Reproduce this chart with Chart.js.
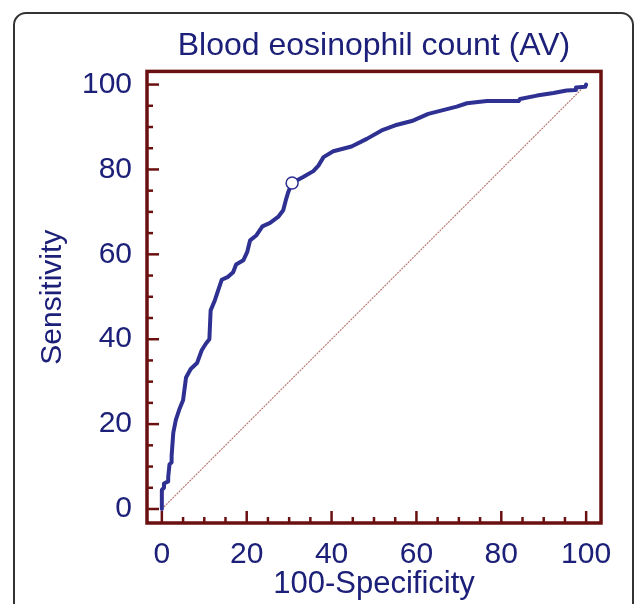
<!DOCTYPE html>
<html>
<head>
<meta charset="utf-8">
<title>Blood eosinophil count (AV)</title>
<script src="https://cdn.jsdelivr.net/npm/chart.js@4.4.1/dist/chart.umd.min.js"></script>
<style>
  html, body { margin: 0; padding: 0; background: #fff; }
</style>
</head>
<body>
<canvas id="roc" width="635" height="604"></canvas>
<script>
// ROC curve (x = 100-Specificity, y = Sensitivity)
let fprValues = [0, 0, 0.5, 0.5, 1.5, 1.5, 1.8, 2.3, 2.3, 2.7, 3.3, 4.2, 5.0, 5.7, 6.8, 8.3, 9.4, 10.4, 11.2,
  11.5, 12.5, 14.1, 15.6, 16.8, 17.5, 19.2, 20.1, 20.8, 22.3, 23.7, 25.5, 27.4, 28.6, 29.2, 29.8, 30.4, 30.7,
  33.3, 35.7, 36.9, 38.1, 40.4, 44.7, 48.3, 51.8, 55.0, 58.9, 62.8, 69.5, 71.9, 76.6, 84.1, 84.4, 88.4, 92.3,
  95.4, 97.4, 97.6, 99.8, 100];
let tprValues = [0, 4.5, 5.0, 6.0, 6.5, 7.5, 10.5, 11.0, 12.5, 18.0, 21.0, 23.7, 25.6, 31.0, 33.0, 34.4, 37.4, 39.0, 40.0,
  46.8, 49.2, 54.0, 54.7, 55.8, 57.6, 58.6, 60.5, 63.3, 64.5, 66.6, 67.4, 68.8, 70.4, 72.7, 74.7, 76.2, 76.8,
  78.2, 79.6, 80.9, 82.9, 84.3, 85.4, 87.2, 89.2, 90.4, 91.4, 93.1, 94.8, 95.6, 96.1, 96.1, 96.6, 97.4, 98.0,
  98.6, 98.7, 99.3, 99.5, 100];

// optimal criterion point
let cutoffX = [30.7];
let cutoffY = [76.8];

// reference diagonal
let refX = [0, 100];
let refY = [0, 100];

let majorTicks = [0, 20, 40, 60, 80, 100];
let minorTicks = [0, 5, 10, 15, 20, 25, 30, 35, 40, 45, 50, 55, 60, 65, 70, 75, 80, 85, 90, 95, 100];

let textColor = "#1c2078";
let lineColor = "#2e3192";
let frameColor = "#6b1010";
let fontFamily = "'Liberation Sans', Arial, sans-serif";

function toPoints(xs, ys) {
  return xs.map(function (x, i) {
    return { x: x, y: ys[i] };
  });
}

// white card with rounded border behind the chart
const cardPlugin = {
  id: "card",
  beforeDraw(chart) {
    let ctx = chart.ctx;
    ctx.save();
    ctx.fillStyle = "#fff";
    ctx.fillRect(0, 0, chart.width, chart.height);
    ctx.strokeStyle = "#333";
    ctx.lineWidth = 2;
    ctx.beginPath();
    ctx.roundRect(14, 13, 619, 640, 12);
    ctx.stroke();
    ctx.restore();
  },
};

// box around plot area + inward tick marks
const framePlugin = {
  id: "frame",
  afterDatasetsDraw(chart) {
    let ctx = chart.ctx;
    let a = chart.chartArea;
    let xs = chart.scales.x;
    let ys = chart.scales.y;
    ctx.save();
    ctx.strokeStyle = frameColor;
    ctx.lineWidth = 2.5;
    minorTicks.forEach(function (v) {
      let len = majorTicks.includes(v) ? 12 : 6;
      let px = xs.getPixelForValue(v);
      ctx.beginPath();
      ctx.moveTo(px, a.bottom);
      ctx.lineTo(px, a.bottom - len);
      ctx.stroke();
      let py = ys.getPixelForValue(v);
      ctx.beginPath();
      ctx.moveTo(a.left, py);
      ctx.lineTo(a.left + len, py);
      ctx.stroke();
    });
    ctx.lineWidth = 3.5;
    ctx.strokeRect(a.left, a.top, a.right - a.left, a.bottom - a.top);
    ctx.restore();
  },
};

new Chart(document.getElementById("roc"), {
  type: "scatter",
  data: {
    datasets: [
      {
        data: toPoints(cutoffX, cutoffY),
        pointRadius: 6,
        pointBackgroundColor: "#fff",
        pointBorderColor: lineColor,
        pointBorderWidth: 1.5,
        showLine: false,
      },
      {
        data: toPoints(fprValues, tprValues),
        borderColor: lineColor,
        borderWidth: 4,
        pointRadius: 0,
        showLine: true,
        borderJoinStyle: "round",
        borderCapStyle: "round",
      },
      {
        data: toPoints(refX, refY),
        borderColor: "#b87c76",
        borderWidth: 1.2,
        borderDash: [2, 1],
        pointRadius: 0,
        showLine: true,
      },
    ],
  },
  options: {
    responsive: false,
    animation: false,
    layout: { padding: { left: 0, right: 34, top: 0, bottom: 0 } },
    plugins: {
      legend: { display: false },
      tooltip: { enabled: false },
      title: {
        display: true,
        fullSize: false,
        text: "Blood eosinophil count (AV)",
        color: textColor,
        font: { family: fontFamily, size: 32, weight: "normal" },
        padding: { top: 27, bottom: 6 },
      },
    },
    scales: {
      x: {
        type: "linear",
        min: -3.5,
        max: 103.5,
        afterBuildTicks: function (s) {
          s.ticks = majorTicks.map(function (v) { return { value: v }; });
        },
        afterFit: function (s) { s.height = 81; },
        grid: { display: false, drawTicks: false },
        border: { display: false },
        ticks: {
          color: textColor,
          font: { family: fontFamily, size: 30 },
          padding: 14,
          maxRotation: 0,
          autoSkip: false,
        },
        title: {
          display: true,
          text: "100-Specificity",
          color: textColor,
          font: { family: fontFamily, size: 31 },
          padding: 1,
        },
      },
      y: {
        type: "linear",
        min: -3.3,
        max: 103.1,
        afterBuildTicks: function (s) {
          s.ticks = majorTicks.map(function (v) { return { value: v }; });
        },
        afterFit: function (s) { s.width = 147; },
        grid: { display: false, drawTicks: false },
        border: { display: false },
        ticks: {
          color: textColor,
          font: { family: fontFamily, size: 30 },
          padding: 15,
          autoSkip: false,
        },
        title: {
          display: true,
          text: "Sensitivity",
          color: textColor,
          font: { family: fontFamily, size: 30 },
          padding: 35,
        },
      },
    },
  },
  plugins: [cardPlugin, framePlugin],
});
</script>
</body>
</html>
